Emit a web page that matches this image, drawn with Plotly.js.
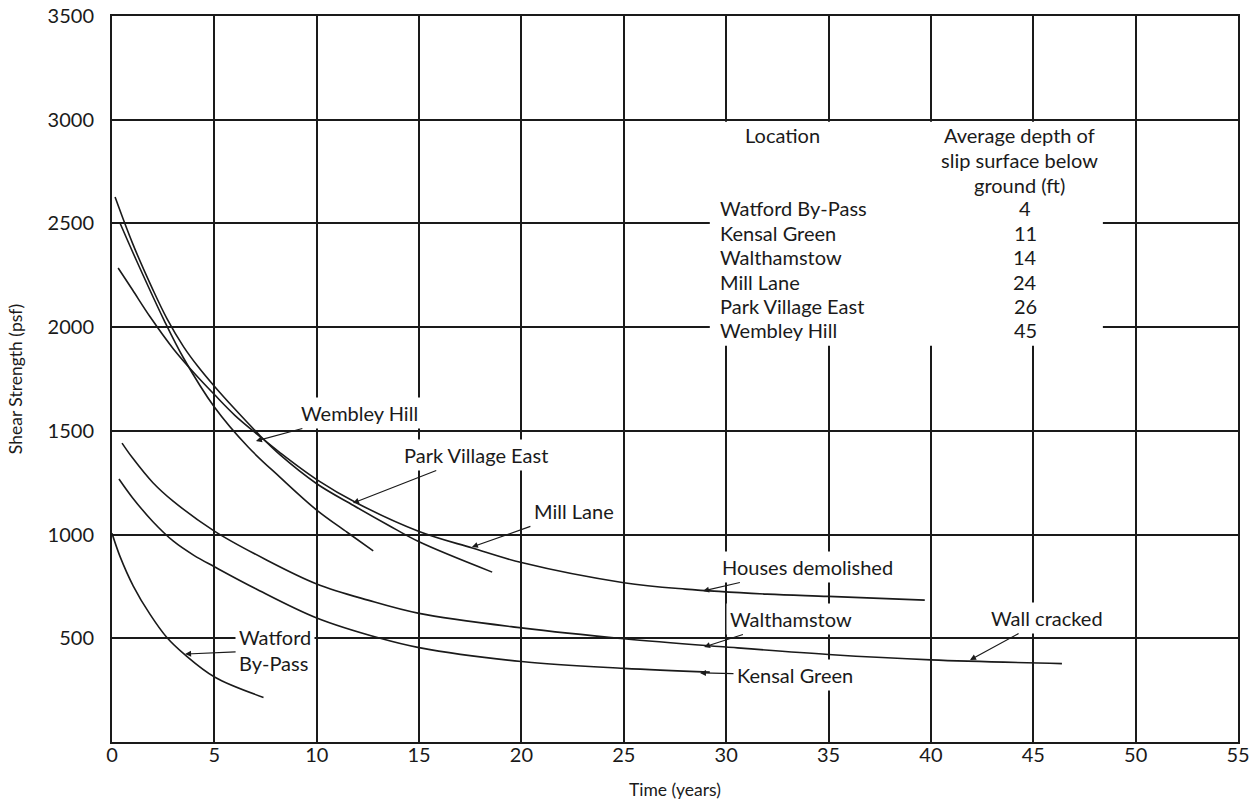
<!DOCTYPE html>
<html>
<head>
<meta charset="utf-8">
<script src="https://cdn.plot.ly/plotly-3.0.1.min.js"></script>
<style>
  html, body { margin: 0; padding: 0; background: #fff; }
  #chart { width: 1249px; height: 800px; }
</style>
</head>
<body>
<div id="chart"></div>
<script>
// Shear strength of slip surfaces in London clay versus time since construction
const watfordX = [0, 0.39, 1.04, 1.86, 2.67, 3.57, 5.03, 7.4];
const watfordY = [1006, 895, 752, 615, 505, 420, 312, 215];

const kensalX = [0.34, 1, 2, 3, 4, 5, 7, 10, 13.1, 15, 20, 25, 29.2];
const kensalY = [1268, 1178, 1062, 968, 900, 845, 740, 598, 500, 455, 388, 355, 337];

const walthamstowX = [0.49, 1, 2, 3, 5, 7.5, 10, 12.5, 15, 20, 25, 30, 35, 40, 46.4];
const walthamstowY = [1441, 1370, 1250, 1160, 1017, 880, 762, 684, 620, 550, 498, 458, 422, 396, 378];

const millLaneX = [0.3, 1, 1.86, 3, 4, 5, 6, 7.2, 8.2, 10, 12, 15, 17.6, 20, 25, 28, 32, 35, 39.7];
const millLaneY = [2285, 2180, 2050, 1895, 1780, 1675, 1575, 1475, 1395, 1265, 1150, 1015, 935, 865, 768, 737, 713, 702, 684];

const parkVillageX = [0.15, 1, 2, 2.69, 3.5, 4.2, 5, 6, 7.2, 8.2, 10, 11.8, 13.5, 15, 18.57];
const parkVillageY = [2627, 2405, 2180, 2040, 1905, 1810, 1715, 1605, 1480, 1385, 1245, 1140, 1045, 965, 819];

const wembleyX = [0.39, 1.2, 2.54, 3.5, 5, 6.65, 8.2, 10, 11.5, 12.76];
const wembleyY = [2502, 2320, 2034, 1850, 1615, 1422, 1277, 1118, 1010, 921];

// Key table: location and average depth of slip surface (ft)
const tableLocations = ["Watford By-Pass", "Kensal Green", "Walthamstow", "Mill Lane", "Park Village East", "Wembley Hill"];
const tableDepths = ["4", "11", "14", "24", "26", "45"];

const xTicks = [0, 5, 10, 15, 20, 25, 30, 35, 40, 45, 50, 55];
const yTicks = [500, 1000, 1500, 2000, 2500, 3000, 3500];

const FONT = "Lato, 'Open Sans', sans-serif";
const INK = "#1a1a1a";

function curve(x, y) {
  return {
    x: x, y: y, type: "scatter", mode: "lines",
    line: { color: INK, width: 1.6, shape: "spline", smoothing: 1 },
    hoverinfo: "skip", showlegend: false
  };
}

const traces = [
  curve(watfordX, watfordY),
  curve(kensalX, kensalY),
  curve(walthamstowX, walthamstowY),
  curve(millLaneX, millLaneY),
  curve(parkVillageX, parkVillageY),
  curve(wembleyX, wembleyY)
];

// Callout labels with leader arrows
function callout(text, x, y, ax, ay) {
  return {
    text: text, x: x, y: y, xref: "x", yref: "y",
    ax: ax, ay: ay, showarrow: true,
    arrowhead: 2, arrowsize: 1, arrowwidth: 1.2, arrowcolor: INK,
    standoff: 0, startstandoff: 0,
    bgcolor: "#ffffff", borderpad: 3,
    align: "left",
    font: { family: FONT, size: 20, color: INK }
  };
}

const annotations = [
  callout("Wembley Hill", 7.03, 1451, 104, -28),
  callout("Park Village East", 11.77, 1152, 123, -48),
  callout("Mill Lane", 17.58, 940, 102, -36),
  callout("Houses demolished", 28.87, 728, 104, -24),
  callout("Walthamstow", 28.92, 458, 87, -28),
  callout("Kensal Green", 28.72, 333, 95, 2),
  callout("Wall cracked", 41.91, 395, 77, -42),
  callout("Watford<br>By-Pass", 3.57, 424, 90, -4)
];

function tableText(text, x, y, anchor) {
  return {
    text: text, x: x, y: y, xref: "x", yref: "y",
    showarrow: false, xanchor: anchor, yanchor: "middle",
    font: { family: FONT, size: 20, color: INK }
  };
}

annotations.push(tableText("Location", 32.73, 2926, "center"));
const depthHeader = ["Average depth of", "slip surface below", "ground (ft)"];
depthHeader.forEach((t, i) => annotations.push(tableText(t, 44.35, 2926 - i * 120, "center")));
tableLocations.forEach((t, i) => annotations.push(tableText(t, 29.6, 2574 - i * 118, "left")));
tableDepths.forEach((t, i) => annotations.push(tableText(t, 44.6, 2574 - i * 118, "center")));

const layout = {
  width: 1249, height: 800,
  margin: { l: 112, r: 11, t: 16, b: 58 },
  paper_bgcolor: "#ffffff", plot_bgcolor: "#ffffff",
  showlegend: false,
  font: { family: FONT, color: INK },
  xaxis: {
    range: [0, 55], tickvals: xTicks, ticktext: xTicks.map(String),
    showgrid: true, gridcolor: INK, gridwidth: 2,
    showline: true, linecolor: INK, linewidth: 2, mirror: true,
    zeroline: false, ticks: "", ticklabeloverflow: "allow", ticklabelstandoff: -6,
    tickfont: { family: FONT, size: 20, color: INK },
    title: { text: "Time (years)", font: { family: FONT, size: 17.5, color: INK }, standoff: 22 }
  },
  yaxis: {
    range: [0, 3500], tickvals: yTicks, ticktext: yTicks.map(String),
    showgrid: true, gridcolor: INK, gridwidth: 2,
    showline: true, linecolor: INK, linewidth: 2, mirror: true,
    zeroline: false, ticks: "", ticklabelstandoff: 12,
    tickfont: { family: FONT, size: 20, color: INK },
    title: { text: "Shear Strength (psf)", font: { family: FONT, size: 17.5, color: INK }, standoff: 20 }
  },
  shapes: [{
    type: "rect", xref: "x", yref: "y",
    x0: 29.2, x1: 48.4, y0: 1910, y1: 2990,
    fillcolor: "#ffffff", line: { width: 0 }, layer: "above"
  }],
  annotations: annotations
};

Plotly.newPlot("chart", traces, layout, { staticPlot: true, displayModeBar: false });
</script>
</body>
</html>
